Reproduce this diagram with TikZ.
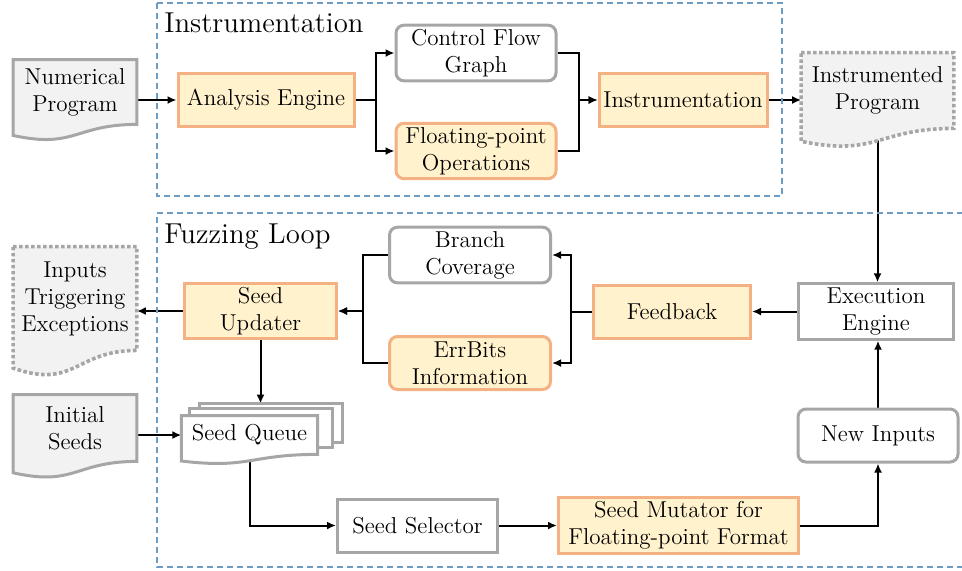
\documentclass[tikz,border=0pt]{standalone}
\usepackage{fontspec}
\usetikzlibrary{arrows.meta,calc,backgrounds}
\definecolor{hotedge}{HTML}{F4B183}
\definecolor{hotfill}{HTML}{FFF2CC}
\definecolor{coldedge}{HTML}{A6A6A6}
\definecolor{docfill}{HTML}{F2F2F2}
\definecolor{frameblue}{HTML}{6C9BC4}

\begin{document}
\begin{tikzpicture}[
  x=0.5pt, y=-0.5pt,
  every node/.style = {font=\fontsize{11.5}{13.5}\selectfont},
  stage/.style      = {line width=1.5pt, align=center, inner sep=2pt,
                       minimum width=78.5pt, minimum height=26.5pt},
  hot/.style        = {stage, draw=hotedge, fill=hotfill},
  cold/.style       = {stage, draw=coldedge, fill=white},
  soft/.style       = {rounded corners=4pt},
  doc/.style        = {align=center, inner sep=0pt, minimum width=61.5pt},
  sheet/.style      = {inner sep=0pt, minimum width=69.5pt, minimum height=19pt},
  docline/.style    = {line width=1.5pt, draw=coldedge, fill=docfill},
  docdots/.style    = {docline, line width=1.8pt, dash pattern=on 1.8pt off 1.2pt},
  page/.style       = {line width=1.5pt, draw=coldedge, fill=white},
  flow/.style       = {line width=1pt, -{Latex[length=4.5pt,width=4pt]}},
  frame/.style      = {draw=frameblue, line width=0.6pt, dash pattern=on 3pt off 2pt},
  title/.style      = {font=\fontsize{14.4}{17}\selectfont, anchor=base west, inner sep=0pt},
]

  \useasboundingbox (0,0) rectangle (962,570);

  \draw[frame] (157,3) rectangle (782,196);
  \draw[frame] (963,213) -| (157,567) -- (963,567);
  \node[title] (tinst) at (164,32)  {Instrumentation};
  \node[title] (tfuzz) at (164,243) {Fuzzing Loop};

  % instrumentation part
  \node[doc, minimum height=32pt]   (np)   at (75,92)    {Numerical\\Program};
  \node[hot, minimum width=88pt]    (ae)   at (266,100)  {Analysis Engine};
  \node[cold, soft, minimum width=80pt] (cfg) at (476,53)  {Control Flow\\Graph};
  \node[hot, soft, minimum width=80pt]  (fpo) at (476,151) {Floating-point\\Operations};
  \node[hot, minimum width=84pt]    (inst) at (683,100)  {Instrumentation};
  \node[doc, minimum width=76pt, minimum height=37.5pt] (ip) at (877.5,90.5) {Instrumented\\Program};

  % fuzzing loop
  \node[cold, minimum width=77.5pt] (ee)   at (876,311.5) {Execution\\Engine};
  \node[hot]                        (fb)   at (672,311.5) {Feedback};
  \node[cold, soft, minimum width=80.5pt] (bc) at (470,255) {Branch\\Coverage};
  \node[hot, soft, minimum width=80.5pt]  (eb) at (470,363) {ErrBits\\Information};
  \node[hot, minimum width=76pt]    (su)   at (260.5,311) {Seed\\Updater};
  \node[doc, minimum height=51.5pt] (exc)  at (75,298.5)  {Inputs\\Triggering\\Exceptions};
  \node[doc, minimum height=33pt]   (seeds) at (75,428)   {Initial\\Seeds};
  \node[sheet, minimum width=71pt]  (sq3)  at (271,423)   {};
  \node[sheet, minimum width=71pt]  (sq2)  at (261,428)   {};
  \node[sheet, minimum width=67.75pt] (sq) at (249.5,435) {Seed Queue};
  \node[cold, minimum width=80pt]   (ss)   at (417.5,525.5) {Seed Selector};
  \node[hot, minimum width=120pt]   (mut)  at (678.5,525.5) {Seed Mutator for\\Floating-point Format};
  \node[cold, soft, minimum width=80pt] (ni) at (878,435.5) {New Inputs};

  \begin{scope}[on background layer]
    \draw[flow] (np.east |- ae.west) -- (ae.west);
    \draw[flow] (ae.east) -- ++(20,0) |- (cfg.west);
    \draw[flow] (ae.east) -- ++(20,0) |- (fpo.west);
    \draw[flow] (cfg.east) -- ++(21,0) |- (inst.west);
    \draw[flow] (fpo.east) -- ++(21,0) |- (inst.west);
    \draw[flow] (inst.east) -- (inst.east -| ip.west);
    \draw[flow] (ip.south) -- (ip.south |- ee.north);
    \draw[flow] (ee) -- (fb);
    \draw[flow] (fb.west) -- ++(-21,0) |- (bc.east);
    \draw[flow] (fb.west) -- ++(-21,0) |- (eb.east);
    \draw[flow] (bc.west) -- ++(-25,0) |- (su.east);
    \draw[flow] (eb.west) -- ++(-25,0) |- (su.east);
    \draw[flow] (su.west) -- (su.west -| exc.east);
    \draw[flow] (su.south) -- (su.south |- sq3.north);
    \draw[flow] (sq.west -| seeds.east) -- (sq.west);
    \draw[flow] (sq.south) |- (ss.west);
    \draw[flow] (ss) -- (mut);
    \draw[flow] (mut.east) -| (ni.south);
    \draw[flow] (ni.north) -- (ni.north |- ee.south);

    % stacked pages behind the queue, then the wavy documents
    \foreach \p in {sq3, sq2}
      \draw[page] (\p.north west) rectangle (\p.south east);
    \foreach \d/\s in {np/docline, seeds/docline, sq/page, ip/docdots, exc/docdots}
      \draw[\s] (\d.north west) -- (\d.north east) -- (\d.south east)
        .. controls (\d.south) and ($(\d.south)!-0.38!(\d.north)$)
        .. ($(\d.south west)!-0.17!(\d.north west)$) -- cycle;
  \end{scope}
\end{tikzpicture}
\end{document}
